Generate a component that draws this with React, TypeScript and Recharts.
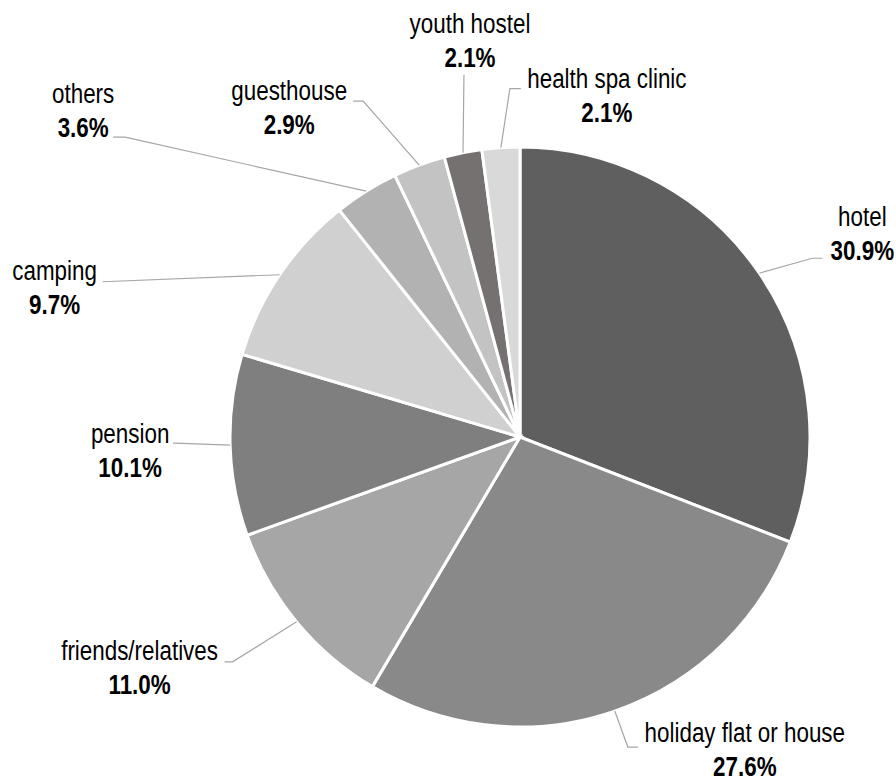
import React from "react"
import { PieChart, Pie, Cell } from "recharts"

const categories = [
  "hotel",
  "holiday flat or house",
  "friends/relatives",
  "pension",
  "camping",
  "others",
  "guesthouse",
  "youth hostel",
  "health spa clinic",
]

const shares = [30.9, 27.6, 11.0, 10.1, 9.7, 3.6, 2.9, 2.1, 2.1]

const COLORS = ["#5f5f5f", "#898989", "#a6a6a6", "#7f7f7f", "#d0d0d0", "#b2b2b2", "#c3c3c3", "#767171", "#d9d9d9"]

// leader line elbow / tail and text placement, relative to the slice's edge point
const LABEL_POS = [
  { ex: 53, ey: -15, tail: 63, tx: 103, ty: -47 },
  { ex: 13, ey: 36, tail: 23, tx: 130, ty: 31 },
  { ex: -64, ey: 40, tail: -72, tx: -157, ty: 38 },
  { ex: -55, ey: -2, tail: -57, tx: -100, ty: -2 },
  { ex: -177, ey: 7, tail: -177, tx: -225, ty: 5 },
  { ex: -241, ey: -54, tail: -253, tx: -283, ty: -88 },
  { ex: -56, ey: -64, tail: -66, tx: -130, ty: -65 },
  { ex: 1, ey: -78, tail: 1, tx: 7, ty: -120 },
  { ex: 9, ey: -59, tail: 20, tx: 106, ty: -60 },
]

const data = categories.map((name, i) => ({ name, value: shares[i] }))

const RAD = Math.PI / 180
const FONT = "'Liberation Sans', Arial, sans-serif"
// no narrow font installed, so squeeze the regular one
const NARROW = 0.8

const renderLabel = (props: any) => {
  const { cx, cy, midAngle, outerRadius, index, name, value } = props
  const px = cx + outerRadius * Math.cos(-midAngle * RAD)
  const py = cy + outerRadius * Math.sin(-midAngle * RAD)
  const p = LABEL_POS[index]
  const path = `M${px},${py} L${px + p.ex},${py + p.ey} L${px + p.tail},${py + p.ey}`
  return (
    <g>
      <path d={path} stroke="#a6a6a6" strokeWidth={1.2} fill="none" />
      <g transform={`translate(${px + p.tx},${py + p.ty}) scale(${NARROW},1)`}>
        <text x={0} y={0} textAnchor="middle" fontSize={28} fill="#000" fontFamily={FONT}>
          {name}
        </text>
        <text x={0} y={34} textAnchor="middle" fontSize={28} fontWeight="bold" fill="#000" fontFamily={FONT}>
          {value.toFixed(1)}%
        </text>
      </g>
    </g>
  )
}

export default function App() {
  return (
    <div style={{ position: "absolute", left: 0, top: 0, width: 896, height: 782, background: "#fff" }}>
      <PieChart width={896} height={782} margin={{ top: 0, right: 0, bottom: 0, left: 0 }}>
        <Pie
          data={data}
          dataKey="value"
          nameKey="name"
          cx={520}
          cy={437}
          outerRadius={290}
          startAngle={90}
          endAngle={-270}
          stroke="#fff"
          strokeWidth={3}
          label={renderLabel}
          labelLine={false}
          isAnimationActive={false}
        >
          {data.map((entry, index) => (
            <Cell key={`cell-${index}`} fill={COLORS[index]} />
          ))}
        </Pie>
      </PieChart>
    </div>
  )
}
